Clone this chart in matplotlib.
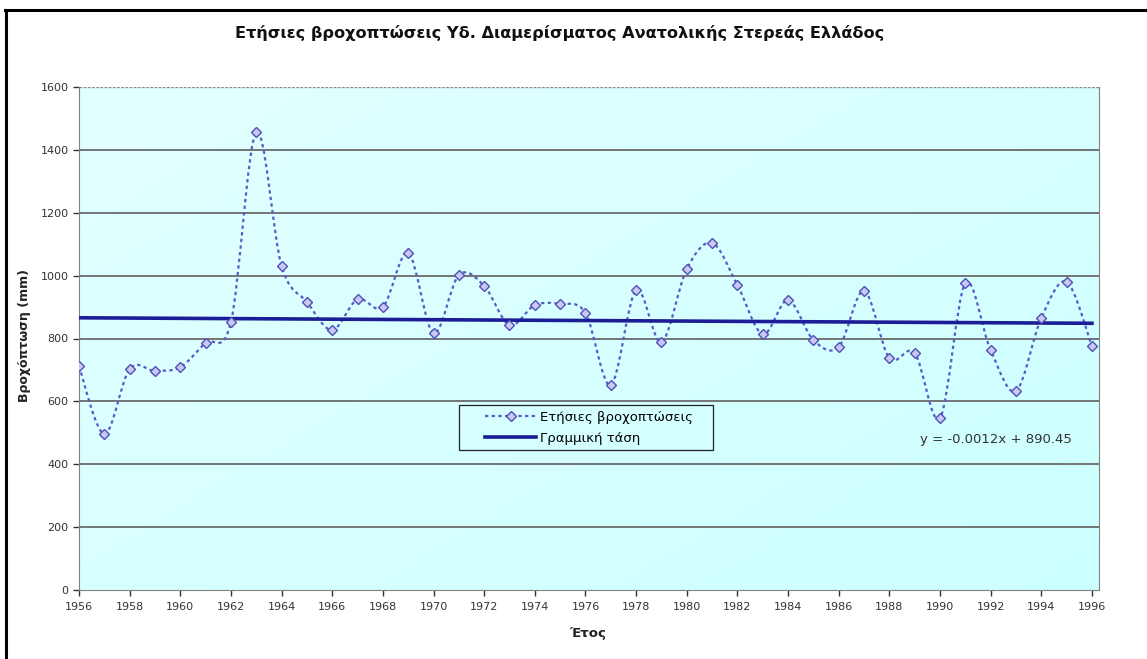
import numpy as np
import matplotlib
matplotlib.use('Agg')
import matplotlib.pyplot as plt
from matplotlib.path import Path
from matplotlib.patches import PathPatch, Rectangle
from matplotlib.lines import Line2D

# annual rainfall (mm)
years = np.arange(1956, 1997)
rain = [712, 496, 703, 697, 709, 786, 852, 1457, 1030, 916,
        827, 925, 900, 1072, 817, 1002, 967, 843, 906, 910,
        881, 652, 954, 789, 1021, 1104, 970, 814, 922, 795,
        773, 951, 738, 754, 547, 976, 763, 633, 865, 980, 776]

# Excel trend line, x is the date serial number
trend_slope = -0.0012
trend_intercept = 890.45

xtick_years = list(range(1956, 1997, 2))
ytick_vals = list(range(0, 1601, 200))

title = 'Ετήσιες βροχοπτώσεις Υδ. Διαμερίσματος Ανατολικής Στερεάς Ελλάδος'
xlab = 'Έτος'
ylab = 'Βροχόπτωση (mm)'
eqn = 'y = -0.0012x + 890.45'
leg_labels = ['Ετήσιες βροχοπτώσεις', 'Γραμμική τάση']

plt.rcParams['font.family'] = ['DejaVu Sans']

W, H = 1147, 659
fig = plt.figure(figsize=(W / 100, H / 100), dpi=100)
ax = fig.add_axes([79 / W, 1 - 590 / H, (1099 - 79) / W, (590 - 87) / H])

# background: cyan, lighter towards the top left
gx, gy = np.meshgrid(np.linspace(0, 1, 200), np.linspace(0, 1, 100))
g = np.clip(0.55 * (1 - gx) + 0.45 * gy, 0, 1)
c0 = np.array([0.80, 1.0, 1.0])
c1 = np.array([0.89, 1.0, 1.0])
img = c0 + (c1 - c0) * g[..., None]
ax.imshow(img, extent=[0, 1, 0, 1], transform=ax.transAxes, aspect='auto',
          origin='lower', zorder=0)

ax.set_xlim(1956, 1996.28)
ax.set_ylim(0, 1600)

for v in ytick_vals[1:-1]:
    ax.axhline(v, color='#6a6a6a', lw=1.3, zorder=1)
ax.axhline(1600, color='#8a8a8a', lw=1, ls=(0, (2, 1)), zorder=1)

# smoothed line (Excel style bezier through the points)
x = years.astype(float)
y = np.array(rain, dtype=float)
verts = [(x[0], y[0])]
codes = [Path.MOVETO]
n = len(x)
for i in range(n - 1):
    xp, yp = (x[i - 1], y[i - 1]) if i > 0 else (x[i], y[i])
    xn, yn = (x[i + 2], y[i + 2]) if i + 2 < n else (x[i + 1], y[i + 1])
    c1p = (x[i] + (x[i + 1] - xp) / 6, y[i] + (y[i + 1] - yp) / 6)
    c2p = (x[i + 1] - (xn - x[i]) / 6, y[i + 1] - (yn - y[i]) / 6)
    verts += [c1p, c2p, (x[i + 1], y[i + 1])]
    codes += [Path.CURVE4] * 3
ax.add_patch(PathPatch(Path(verts, codes), fill=False, edgecolor='#5a5ac8',
                       lw=1.6, ls=(0, (1.5, 1.5)), zorder=3))
ax.plot(years, rain, ls='none', marker='D', ms=5.5, mfc='#c8c8f0',
        mec='#5050b8', mew=1, zorder=4)

# trend line
serial = (years - 1900) * 365.25 + 1
trend = trend_slope * serial + trend_intercept
ax.plot(years, trend, color='#1c1c96', lw=2.6, zorder=3)

ax.set_xticks(xtick_years)
ax.set_yticks(ytick_vals)
ax.tick_params(labelsize=8, colors='#333333', length=4, width=1)
ax.tick_params(axis='x', pad=5)
for s in ['left', 'bottom', 'right']:
    ax.spines[s].set_color('#808080')
ax.spines['top'].set_visible(False)

h1 = Line2D([], [], ls=(0, (1.5, 1.5)), color='#5a5ac8', lw=1.6, marker='D',
            ms=5.5, mfc='#c8c8f0', mec='#5050b8')
h2 = Line2D([], [], color='#1c1c96', lw=2.6)
leg = fig.legend([h1, h2], leg_labels, loc='upper left',
                 bbox_to_anchor=(485 / W, 1 - 411 / H), fontsize=9.5,
                 frameon=False, handlelength=3.9, borderpad=0,
                 labelspacing=0.6, handletextpad=0.25, borderaxespad=0)
fig.add_artist(Rectangle((459 / W, 1 - 450 / H), (713 - 459) / W, 45 / H,
                         transform=fig.transFigure, fill=False,
                         edgecolor='#222222', lw=0.9))

fig.text(920 / W, 1 - 440 / H, eqn, fontsize=9.5, color='#333333',
         va='center')

fig.text(560 / W, 1 - 33 / H, title, ha='center', va='center', fontsize=11.6,
         fontweight='bold', color='#111111')
fig.text(588 / W, 1 - 633 / H, xlab, ha='center', va='center', fontsize=9.5,
         fontweight='bold', color='#222222')
fig.text(25 / W, 1 - 336 / H, ylab, ha='center', va='center', rotation=90,
         fontsize=9, fontweight='bold', color='#222222')

# outer frame (left and top edges)
fig.add_artist(Line2D([6 / W, 6 / W], [0, 1 - 10 / H], color='black', lw=2.2,
                      transform=fig.transFigure))
fig.add_artist(Line2D([5 / W, 1], [1 - 10 / H, 1 - 10 / H], color='black',
                      lw=2.2, transform=fig.transFigure))

fig.savefig('out.png', dpi=100, facecolor='white')
